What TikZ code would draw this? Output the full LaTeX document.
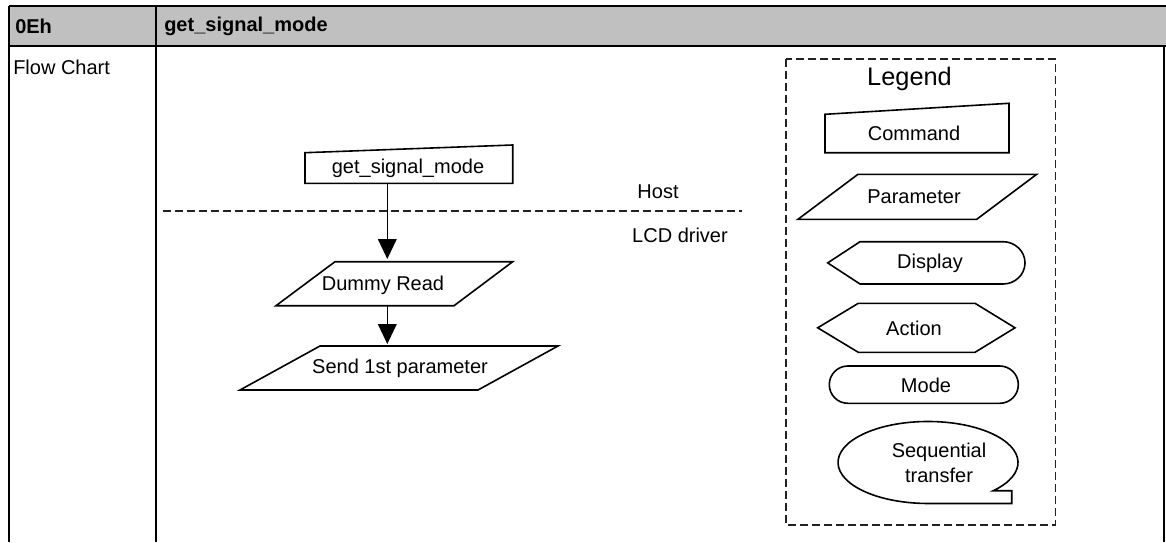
\documentclass[tikz,border=0pt]{standalone}
\usepackage{fontspec}
\setmainfont{Liberation Sans}
\usetikzlibrary{arrows.meta}
\definecolor{hdrgray}{HTML}{C0C0C0}
\definecolor{dashgray}{HTML}{222222}
\begin{document}
\begin{tikzpicture}[x=0.75pt,y=-0.75pt,
  shp/.style={draw=black,line width=1.2pt,line join=miter},
  lbl/.style={inner sep=0pt,font=\fontsize{15}{18}\selectfont},
  hdr/.style={inner sep=0pt,anchor=west,font=\fontsize{15}{18}\selectfont\bfseries},
  tbl/.style={line width=1.7pt},
  dsh/.style={draw=dashgray,line width=1.4pt,dash pattern=on 6pt off 3pt},
  arr/.style={line width=1.2pt,-{Triangle[length=15pt,width=14pt]}}]
\useasboundingbox (0,0) rectangle (1166,542);
% table
\fill[hdrgray] (9,6) rectangle (1166,46);
\draw[tbl] (9,6) -- (1166,6);
\draw[tbl] (9,46) -- (1166,46);
\draw[tbl] (9,6) -- (9,542);
\draw[tbl] (156,6) -- (156,542);
\draw[tbl] (1164,46) -- (1164,542);
\node[hdr] (code) at (15,26) {0Eh};
\node[hdr] (name) at (164,26) {get\_signal\_mode};
\node[lbl,anchor=west] (fc) at (13,67) {Flow Chart};
% flow
\draw[shp] (305,152.7) -- (512.7,145) -- (512.7,183.3) -- (305,183.3) -- cycle;
\node[lbl] (cmd) at (408,168) {get\_signal\_mode};
\coordinate (sepL) at (163,210.7);
\coordinate (sepR) at (742,210.7);
\draw[dsh] (sepL) -- (sepR);
\node[lbl] (host) at (658,192) {Host};
\node[lbl] (lcd) at (680,235) {LCD driver};
\draw[shp] (335,261.7) -- (512.7,261.7) -- (454,305.7) -- (276,305.7) -- cycle;
\node[lbl] (dummy) at (383,285) {Dummy Read};
\draw[shp] (320,346) -- (558,346) -- (478,390) -- (240,390) -- cycle;
\node[lbl] (send) at (400,368) {Send 1st parameter};
\coordinate (a1s) at (387.3,183.3);
\coordinate (a1e) at (387.3,259);
\coordinate (a2s) at (387.3,305.7);
\coordinate (a2e) at (387.3,344);
\draw[arr] (a1s) -- (a1e);
\draw[arr] (a2s) -- (a2e);
% legend
\draw[dsh] (786,59.3) rectangle (1055.5,525);
\node[inner sep=0pt,font=\fontsize{19}{22}\selectfont] (leg) at (909.5,79) {Legend};
\draw[shp] (825,114.3) -- (1009,103.3) -- (1009,152.7) -- (825,152.7) -- cycle;
\node[lbl] (lcmd) at (914,133) {Command};
\draw[shp] (858,174.3) -- (1036.7,174.3) -- (976.7,219.3) -- (798,219.3) -- cycle;
\node[lbl] (lpar) at (914,197) {Parameter};
\draw[shp] (827.7,262.9) -- (860,241.7) -- (1003,241.7)
  .. controls (1015.1,241.7) and (1025,251.2) .. (1025,262.9)
  .. controls (1025,274.6) and (1015.1,284) .. (1003,284)
  -- (860,284) -- cycle;
\node[lbl] (ldisp) at (930,263) {Display};
\draw[shp] (817.7,327.8) -- (858.3,303.3) -- (975,303.3) -- (1015,327.8) -- (975,352.3) -- (858.3,352.3) -- cycle;
\node[lbl] (lact) at (914,328) {Action};
\draw[shp,rounded corners=13.9pt] (829.3,366) rectangle (1018.3,403.3);
\node[lbl] (lmode) at (926,385) {Mode};
\draw[shp] (993.3,490.7) arc[start angle=-43.5,end angle=270,x radius=67.5pt,y radius=30.75pt]
  -- (1011.7,503.5) -- (1011.7,490.7) -- cycle;
\node[lbl,align=center] (lseq) at (939,463) {Sequential\\[1pt]transfer};
\end{tikzpicture}
\end{document}
